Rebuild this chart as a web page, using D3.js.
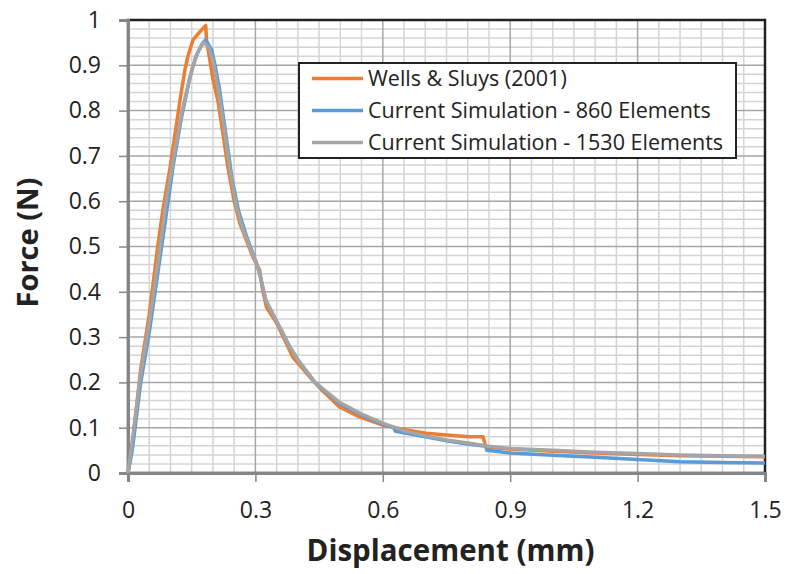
<!DOCTYPE html>
<html>
<head>
<meta charset="utf-8">
<script src="https://cdn.jsdelivr.net/npm/d3@7"></script>
<style>
  body { margin: 0; background: #fff; }
  svg text { font-family: "Open Sans", Lato, sans-serif; fill: #222; }
</style>
</head>
<body>
<div id="chart"></div>
<script>
// Force vs displacement
var xTicks = [0, 0.3, 0.6, 0.9, 1.2, 1.5];
var yTicks = [0, 0.1, 0.2, 0.3, 0.4, 0.5, 0.6, 0.7, 0.8, 0.9, 1];

var wellsSluys = [
  [0, 0], [0.01, 0.06], [0.03, 0.23], [0.05, 0.35], [0.07, 0.5], [0.082, 0.58],
  [0.1, 0.68], [0.122, 0.82], [0.134, 0.89], [0.141, 0.92], [0.153, 0.956],
  [0.17, 0.975], [0.183, 0.988], [0.185, 0.955], [0.2, 0.87], [0.212, 0.82],
  [0.225, 0.74], [0.235, 0.676], [0.25, 0.6], [0.263, 0.552], [0.28, 0.51],
  [0.294, 0.477], [0.31, 0.448], [0.317, 0.404], [0.326, 0.366], [0.35, 0.331],
  [0.388, 0.256], [0.428, 0.212], [0.46, 0.18], [0.498, 0.146], [0.545, 0.124],
  [0.6, 0.106], [0.63, 0.1], [0.655, 0.095], [0.702, 0.088], [0.749, 0.084],
  [0.803, 0.08], [0.836, 0.08], [0.843, 0.057], [0.9, 0.053], [1.0, 0.048],
  [1.1, 0.044], [1.2, 0.041], [1.3, 0.038], [1.4, 0.037], [1.5, 0.036]
];

var sim860 = [
  [0, 0], [0.01, 0.05], [0.03, 0.2], [0.05, 0.31], [0.07, 0.44], [0.09, 0.57],
  [0.106, 0.676], [0.125, 0.78], [0.145, 0.87], [0.16, 0.92], [0.175, 0.948],
  [0.183, 0.956], [0.19, 0.945], [0.197, 0.934], [0.205, 0.9], [0.215, 0.85],
  [0.23, 0.75], [0.245, 0.65], [0.26, 0.58], [0.28, 0.52], [0.3, 0.47],
  [0.31, 0.44], [0.325, 0.38], [0.35, 0.335], [0.38, 0.28], [0.4, 0.25],
  [0.44, 0.2], [0.5, 0.152], [0.55, 0.128], [0.6, 0.108], [0.625, 0.1],
  [0.63, 0.092], [0.7, 0.08], [0.75, 0.071], [0.8, 0.064], [0.843, 0.059],
  [0.845, 0.05], [0.9, 0.044], [1.0, 0.039], [1.1, 0.035], [1.2, 0.03],
  [1.3, 0.025], [1.4, 0.023], [1.5, 0.022]
];

var sim1530 = [
  [0, 0], [0.01, 0.07], [0.03, 0.22], [0.05, 0.33], [0.07, 0.46], [0.09, 0.6],
  [0.11, 0.71], [0.13, 0.81], [0.15, 0.89], [0.165, 0.93], [0.178, 0.951],
  [0.19, 0.94], [0.2, 0.91], [0.21, 0.86], [0.225, 0.77], [0.24, 0.67],
  [0.255, 0.59], [0.27, 0.54], [0.29, 0.49], [0.3, 0.47], [0.31, 0.44],
  [0.325, 0.38], [0.35, 0.335], [0.38, 0.28], [0.4, 0.25], [0.44, 0.2],
  [0.5, 0.155], [0.55, 0.13], [0.6, 0.11], [0.65, 0.093], [0.7, 0.082],
  [0.75, 0.073], [0.8, 0.066], [0.85, 0.059], [0.9, 0.054], [1.0, 0.05],
  [1.1, 0.046], [1.2, 0.043], [1.3, 0.04], [1.4, 0.038], [1.5, 0.037]
];

var seriesNames = ["Wells & Sluys (2001)", "Current Simulation - 860 Elements", "Current Simulation - 1530 Elements"];
var seriesColors = ["#ED7D31", "#5B9BD5", "#A5A5A5"];
var seriesData = [wellsSluys, sim860, sim1530];

// Dimensions
var margin = { top: 20, right: 21, bottom: 101, left: 128 },
  width = 786 - margin.left - margin.right,
  height = 574 - margin.top - margin.bottom;

var svg = d3.select("#chart")
  .append("svg")
  .attr("width", 786)
  .attr("height", 574)
  .append("g")
  .attr("transform", "translate(" + margin.left + "," + margin.top + ")");

var x = d3.scaleLinear().domain([0, 1.5]).range([0, width]);
var y = d3.scaleLinear().domain([0, 1]).range([height, 0]);

// Minor grid
svg.append("g")
  .selectAll("line")
  .data(d3.range(1, 30).map(i => i * 0.05).filter(v => Math.round(v * 100) % 30 !== 0))
  .enter().append("line")
  .attr("x1", d => x(d)).attr("x2", d => x(d))
  .attr("y1", 0).attr("y2", height)
  .attr("stroke", "#d4d4d4").attr("stroke-width", 1.5);

svg.append("g")
  .selectAll("line")
  .data(d3.range(1, 50).map(i => i * 0.02).filter(v => Math.round(v * 100) % 10 !== 0))
  .enter().append("line")
  .attr("x1", 0).attr("x2", width)
  .attr("y1", d => y(d)).attr("y2", d => y(d))
  .attr("stroke", "#d4d4d4").attr("stroke-width", 1.5);

// Major grid
svg.append("g")
  .selectAll("line")
  .data(xTicks.slice(1, -1))
  .enter().append("line")
  .attr("x1", d => x(d)).attr("x2", d => x(d))
  .attr("y1", 0).attr("y2", height)
  .attr("stroke", "#a6a6a6").attr("stroke-width", 1.5);

svg.append("g")
  .selectAll("line")
  .data(yTicks.slice(1, -1))
  .enter().append("line")
  .attr("x1", 0).attr("x2", width)
  .attr("y1", d => y(d)).attr("y2", d => y(d))
  .attr("stroke", "#a6a6a6").attr("stroke-width", 1.5);

// Plot border
svg.append("rect")
  .attr("x", 0).attr("y", 0)
  .attr("width", width).attr("height", height)
  .attr("fill", "none")
  .attr("stroke", "#222").attr("stroke-width", 2.5);

// Axes
var xAxis = svg.append("g")
  .attr("transform", "translate(0," + height + ")")
  .call(d3.axisBottom(x).tickValues(xTicks).tickSize(9).tickPadding(20)
    .tickFormat(d => d === 0 ? "0" : d3.format(".1f")(d)));

var yAxis = svg.append("g")
  .call(d3.axisLeft(y).tickValues(yTicks).tickSize(9).tickPadding(18)
    .tickFormat(d => (d === 0 || d === 1) ? String(d) : d3.format(".1f")(d)));

[xAxis, yAxis].forEach(function (ax) {
  ax.select(".domain").attr("stroke", "#868686").attr("stroke-width", 3);
  ax.selectAll(".tick line").attr("stroke", "#868686").attr("stroke-width", 1.5);
  ax.selectAll("text").style("font-size", "23px").attr("fill", "#222");
});

// Lines
var line = d3.line().x(d => x(d[0])).y(d => y(d[1]));

svg.selectAll(".series")
  .data(seriesData)
  .enter()
  .append("path")
  .attr("class", "series")
  .attr("d", d => line(d))
  .attr("fill", "none")
  .attr("stroke", (d, i) => seriesColors[i])
  .attr("stroke-width", 3.5)
  .attr("stroke-linejoin", "round");

// Legend
var legend = svg.append("g").attr("transform", "translate(" + (299 - margin.left) + "," + (63 - margin.top) + ")");
legend.append("rect")
  .attr("width", 437).attr("height", 95)
  .attr("fill", "#fff")
  .attr("stroke", "#222").attr("stroke-width", 2);

seriesNames.forEach(function (name, i) {
  var ly = 15.5 + i * 32;
  legend.append("line")
    .attr("x1", 13).attr("x2", 64)
    .attr("y1", ly).attr("y2", ly)
    .attr("stroke", seriesColors[i]).attr("stroke-width", 3.5);
  legend.append("text")
    .attr("x", 69).attr("y", ly)
    .attr("dy", "0.35em")
    .style("font-size", "21.5px")
    .text(name);
});

// Axis titles
svg.append("text")
  .attr("x", width / 2 + 4)
  .attr("y", height + 88)
  .attr("text-anchor", "middle")
  .style("font-size", "29.5px")
  .style("font-weight", "bold")
  .text("Displacement (mm)");

svg.append("text")
  .attr("transform", "translate(" + (-margin.left + 38) + "," + (height / 2 - 4) + ")rotate(-90)")
  .attr("text-anchor", "middle")
  .style("font-size", "29px")
  .style("font-weight", "bold")
  .text("Force (N)");
</script>
</body>
</html>
